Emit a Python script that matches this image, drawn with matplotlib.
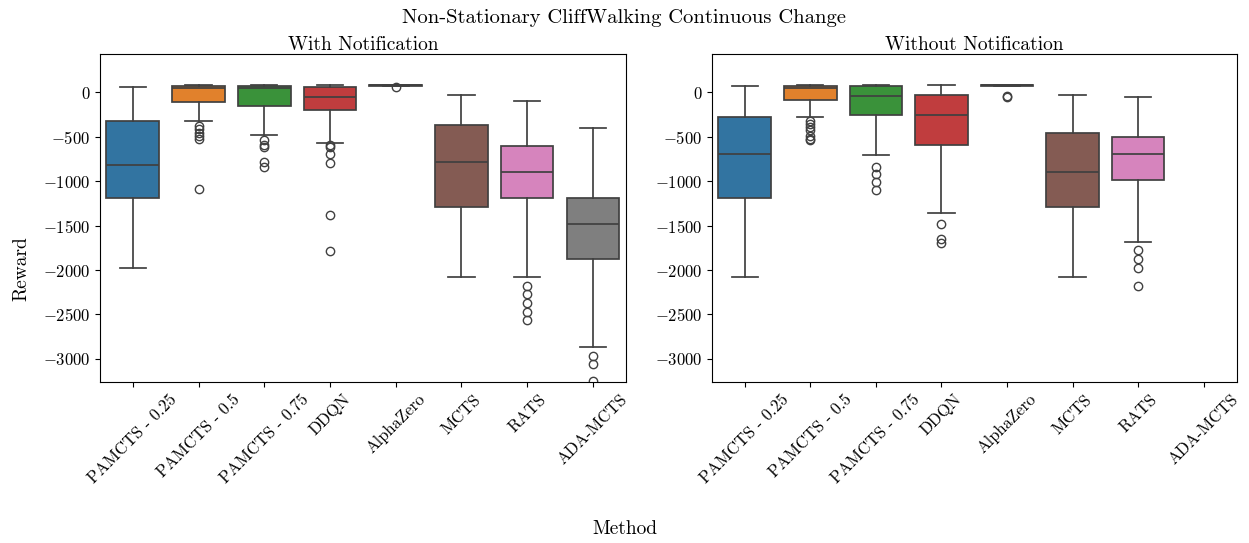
import matplotlib
matplotlib.use("Agg")
import matplotlib.pyplot as plt

plt.rcParams["font.family"] = "serif"
plt.rcParams["font.serif"] = ["cmr10"]
plt.rcParams["mathtext.fontset"] = "cm"
plt.rcParams["axes.formatter.use_mathtext"] = True

methods = ["PAMCTS - 0.25", "PAMCTS - 0.5", "PAMCTS - 0.75", "DDQN",
           "AlphaZero", "MCTS", "RATS", "ADA-MCTS"]
colors = ["#3274a1", "#e1812c", "#3a923a", "#c03d3e",
          "#9372b2", "#845b53", "#d684bd", "#7f7f7f"]

# --- With Notification: whislo, q1, median, q3, whishi, fliers ---
with_whislo = [-1981, -318, -482, -568, 72, -2078, -2078, -2866]
with_q1 = [-1188, -112, -157, -198, 75, -1289, -1188, -1880]
with_med = [-822, 49, 49, -56, 78, -788, -893, -1484]
with_q3 = [-329, 67, 67, 56, 80, -370, -602, -1188]
with_whishi = [56, 82, 82, 86, 82, -30, -93, -400]
with_fliers = [
    [],
    [-385, -418, -460, -497, -523, -1084],
    [-542, -598, -617, -781, -841],
    [-598, -617, -699, -796, -1383, -1783],
    [64],
    [],
    [-2175, -2272, -2373, -2470, -2567],
    [-2963, -3060, -3251],
]

# --- Without Notification (ADA-MCTS has no data) ---
without_whislo = [-2078, -280, -703, -1357, 72, -2078, -1685]
without_q1 = [-1188, -86, -254, -590, 75, -1289, -990]
without_med = [-695, 49, -45, -254, 78, -893, -695]
without_q3 = [-284, 67, 67, -30, 80, -456, -501]
without_whishi = [67, 82, 82, 82, 82, -30, -56]
without_fliers = [
    [],
    [-318, -355, -392, -430, -497, -523, -542],
    [-841, -916, -1009, -1095],
    [-1487, -1655, -1693],
    [-40, -56],
    [],
    [-1775, -1876, -1977, -2175],
]

line_color = "#404040"


def make_stats(whislo, q1, med, q3, whishi, fliers):
    stats = []
    for i in range(len(med)):
        stats.append(dict(whislo=whislo[i], q1=q1[i], med=med[i], q3=q3[i],
                          whishi=whishi[i], fliers=fliers[i]))
    return stats


def draw_panel(ax, stats, title):
    positions = list(range(len(stats)))
    bp = ax.bxp(stats, positions=positions, widths=0.8, capwidths=0.4,
                patch_artist=True, showfliers=True,
                boxprops=dict(edgecolor=line_color, linewidth=1.25),
                medianprops=dict(color=line_color, linewidth=1.25),
                whiskerprops=dict(color=line_color, linewidth=1.25),
                capprops=dict(color=line_color, linewidth=1.25),
                flierprops=dict(marker="o", markerfacecolor="none",
                                markeredgecolor=line_color, markersize=6,
                                markeredgewidth=1.0))
    for patch, c in zip(bp["boxes"], colors):
        patch.set_facecolor(c)
    ax.set_xlim(-0.5, len(methods) - 0.5)
    ax.set_xticks(range(len(methods)))
    ax.set_xticklabels(methods, rotation=45, fontsize=12)
    ax.set_ylim(-3260, 430)
    ax.set_yticks([0, -500, -1000, -1500, -2000, -2500, -3000])
    ax.tick_params(axis="y", labelsize=12)
    ax.set_title(title, fontsize=14, pad=0)


fig = plt.figure(figsize=(12.49, 5.43), dpi=100)
ax1 = fig.add_axes([0.080, 0.2965, 0.421, 0.604])
ax2 = fig.add_axes([0.570, 0.2965, 0.420, 0.604])

draw_panel(ax1, make_stats(with_whislo, with_q1, with_med, with_q3,
                           with_whishi, with_fliers), "With Notification")
draw_panel(ax2, make_stats(without_whislo, without_q1, without_med,
                           without_q3, without_whishi, without_fliers),
           "Without Notification")

fig.text(0.5, 0.967, "Non-Stationary CliffWalking Continuous Change",
         ha="center", va="center", fontsize=14.8)
fig.text(0.5, 0.025, "Method", ha="center", va="center", fontsize=14)
fig.text(0.017, 0.505, "Reward", ha="center", va="center", rotation=90,
         fontsize=14)

fig.savefig("out.png", dpi=100)
